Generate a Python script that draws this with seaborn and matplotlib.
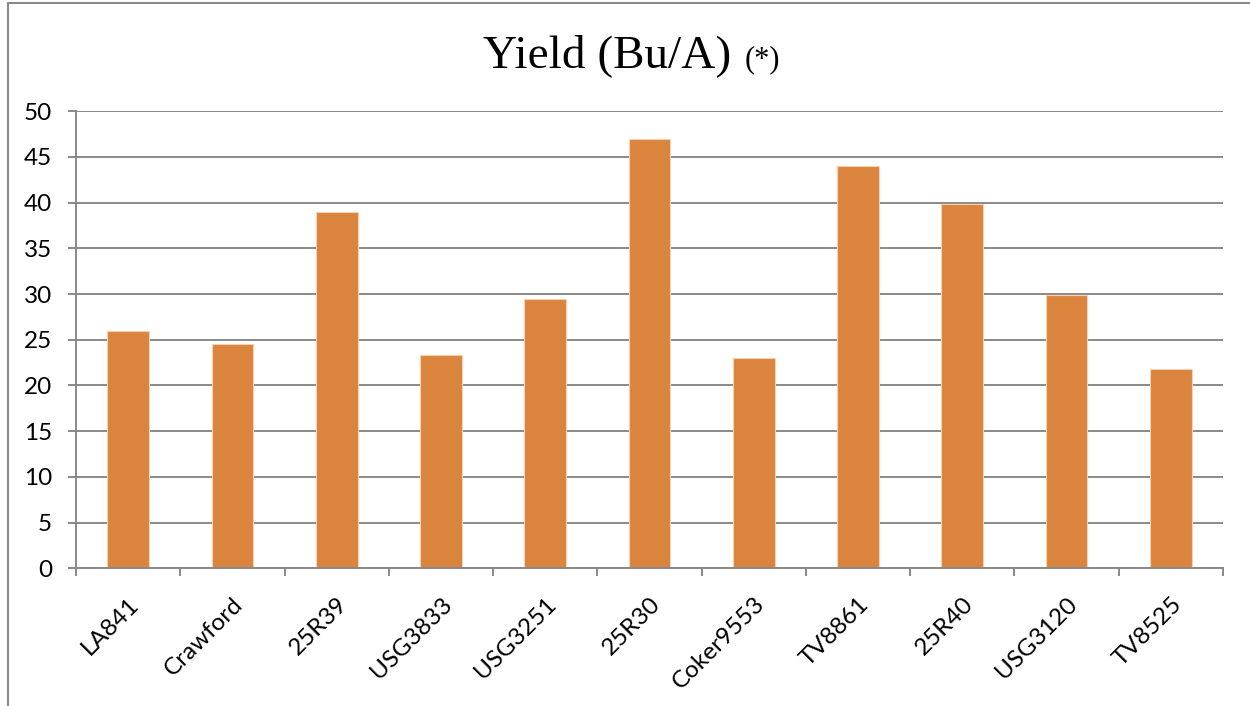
import matplotlib
matplotlib.use("Agg")
import matplotlib.pyplot as plt
from matplotlib.lines import Line2D
import seaborn as sns
import pandas as pd

varieties = ["LA841", "Crawford", "25R39", "USG3833", "USG3251", "25R30",
             "Coker9553", "TV8861", "25R40", "USG3120", "TV8525"]
yields = [26.0, 24.5, 39.0, 23.3, 29.5, 47.0, 23.0, 44.0, 39.9, 29.9, 21.8]
y_ticks = [0, 5, 10, 15, 20, 25, 30, 35, 40, 45, 50]

sns.set_style("white")
plt.rcParams['font.family'] = ['Lato', 'DejaVu Sans']
plt.rcParams['text.color'] = 'black'
plt.rcParams['xtick.labelcolor'] = 'black'
plt.rcParams['ytick.labelcolor'] = 'black'

W, H = 1250, 706
fig = plt.figure(figsize=(12.5, 7.06), dpi=100)
ax = fig.add_axes([76 / W, 1 - 568.3 / H, (1223 - 76) / W, (568.3 - 111.3) / H])

df = pd.DataFrame({"variety": varieties, "yield": yields})
sns.barplot(data=df, x="variety", y="yield", ax=ax, color="#DB843D",
            saturation=1, width=0.4, edgecolor="#F6D2B2", linewidth=0.8)

grid_c = "#898989"
ax.set_ylim(0, 50)
ax.set_xlim(-0.5, len(varieties) - 0.5)
ax.set_yticks(y_ticks)
ax.yaxis.grid(True, color=grid_c, linewidth=1.4)
ax.set_axisbelow(True)
ax.set_xlabel("")
ax.set_ylabel("")
for s in ["top", "right"]:
    ax.spines[s].set_visible(False)
for s in ["left", "bottom"]:
    ax.spines[s].set_color(grid_c)
    ax.spines[s].set_linewidth(1.4)

ax.tick_params(axis="y", direction="out", length=8 * 0.72, width=1.4,
               color=grid_c, pad=11.5, labelsize=17.5, labelcolor="black", left=True)
ax.set_xticks(range(len(varieties)))
ax.set_xticks([i - 0.5 for i in range(len(varieties) + 1)], minor=True)
ax.tick_params(axis="x", which="major", length=0, pad=18, labelcolor="black")
ax.tick_params(axis="x", which="minor", direction="out", length=8 * 0.72,
               width=1.4, color=grid_c, bottom=True)
ax.set_xticklabels(varieties, rotation=45, ha="right", va="top",
                   rotation_mode="anchor", fontsize=17.5, color="black")

# Title: "Yield (Bu/A)" with a smaller "(*)"
renderer = fig.canvas.get_renderer()
base_y = 1 - 67 / H
t1 = fig.text(0, base_y, "Yield (Bu/A)", fontsize=34, va="baseline", ha="left",
              color="black", family=["Liberation Serif", "DejaVu Serif"])
t2 = fig.text(0, base_y, "(*)", fontsize=22, va="baseline", ha="left",
              color="black", family=["Liberation Serif", "DejaVu Serif"])
w1 = t1.get_window_extent(renderer).width
w2 = t2.get_window_extent(renderer).width
gap = 13
x0 = 631.5 - (w1 + gap + w2) / 2
t1.set_x(x0 / W)
t2.set_x((x0 + w1 + gap) / W)

# chart frame (left and top edges visible)
fig.add_artist(Line2D([7.5 / W, 7.5 / W], [1 - 3 / H, 0], transform=fig.transFigure,
                      color="#8a8a8a", linewidth=1.5))
fig.add_artist(Line2D([7.5 / W, 1.0], [1 - 3 / H, 1 - 3 / H], transform=fig.transFigure,
                      color="#8a8a8a", linewidth=1.5))

fig.savefig("out.png", dpi=100, facecolor="white")
